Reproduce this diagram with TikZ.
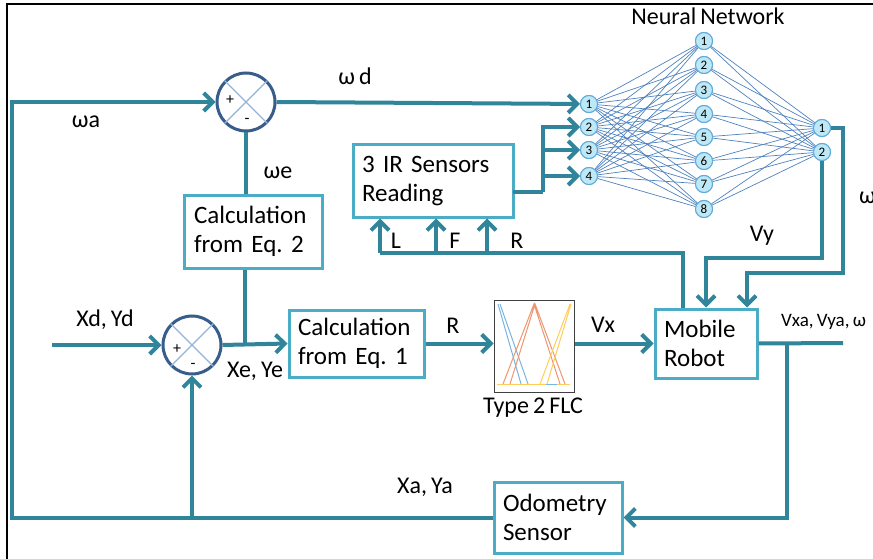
\documentclass[tikz,border=0pt]{standalone}
\usepackage{fontspec}
\setmainfont{Carlito}[WordSpace=0.75]
\frenchspacing
\usetikzlibrary{arrows.meta}
\definecolor{sigline}{RGB}{49,133,155}
\definecolor{boxline}{RGB}{75,172,198}
\definecolor{sumline}{RGB}{56,93,138}
\definecolor{crossline}{RGB}{149,179,215}
\definecolor{netline}{RGB}{79,129,189}
\definecolor{neuronfill}{RGB}{190,232,246}
\definecolor{neuronline}{RGB}{95,170,215}
\definecolor{mfblue}{RGB}{120,180,225}
\definecolor{mforange}{RGB}{240,150,110}
\definecolor{mfyellow}{RGB}{255,205,90}
\begin{document}
\begin{tikzpicture}[x=1pt, y=-1pt,
  sig/.style={sigline, line width=4pt},
  arr/.style={sigline, line width=4pt, -{Straight Barb[length=9pt,width=18pt]}},
  blockbox/.style={draw=boxline, line width=3pt, fill=white, align=left, inner sep=0pt,
    font=\fontsize{25}{29}\selectfont},
  sum/.style={circle, draw=sumline, line width=3pt, fill=white, minimum size=58pt, inner sep=0pt},
  cross/.style={crossline, line width=1.2pt},
  neuron/.style={circle, draw=neuronline, fill=neuronfill, line width=1pt, minimum size=17pt,
    inner sep=0pt, font=\fontsize{13}{13}\selectfont},
  link/.style={netline, line width=0.7pt},
  lbl/.style={font=\fontsize{24}{28}\selectfont, inner sep=0pt},
  pm/.style={font=\fontsize{16}{16}\selectfont, inner sep=0pt}]
\clip (0,0) rectangle (873,559);
\useasboundingbox (0,0) rectangle (873,559);

%frame
\draw[line width=1.5pt] (7,600) -- (7,4) -- (900,4);

%neural network
\node[lbl, font=\fontsize{24}{28}\selectfont] (nntitle) at (708,16) {Neural Network};
\foreach \n/\y in {1/104, 2/127, 3/150, 4/176}
  \node[neuron] (i\n) at (589,\y) {\n};
\foreach \n/\y in {1/41, 2/65, 3/90, 4/114, 5/137, 6/161, 7/184, 8/209}
  \node[neuron] (h\n) at (704,\y) {\n};
\foreach \n/\y in {1/128, 2/152}
  \node[neuron] (o\n) at (822,\y) {\n};
\foreach \a in {1,...,4}
  \foreach \b in {1,...,8}
    \draw[link] (i\a) -- (h\b);
\foreach \b in {1,...,8}
  \foreach \c in {1,2}
    \draw[link] (h\b) -- (o\c);
%redraw neurons on top of links
\foreach \n/\y in {1/104, 2/127, 3/150, 4/176}
  \node[neuron] at (589,\y) {\n};
\foreach \n/\y in {1/41, 2/65, 3/90, 4/114, 5/137, 6/161, 7/184, 8/209}
  \node[neuron] at (704,\y) {\n};
\foreach \n/\y in {1/128, 2/152}
  \node[neuron] at (822,\y) {\n};

%blocks
\node[blockbox, minimum width=138pt, minimum height=73pt, text width=118pt] (eq2) at (253,231.5)
  {Calculation\\from Eq. 2};
\node[blockbox, minimum width=135pt, minimum height=67pt, text width=117pt] (eq1) at (356.5,343.5)
  {Calculation\\from Eq. 1};
\node[blockbox, minimum width=160pt, minimum height=72pt, text width=142pt] (ir) at (433,181)
  {3 IR Sensors\\Reading};
\node[blockbox, minimum width=102pt, minimum height=69pt, text width=84pt] (robot) at (706,343.5)
  {Mobile\\Robot};
\node[blockbox, minimum width=128pt, minimum height=71pt, text width=110pt] (odo) at (558,517.5)
  {Odometry\\Sensor};
\node[draw=black!75, line width=1pt, fill=white, minimum width=80pt, minimum height=92pt] (flc) at (534,346) {};
\node[lbl] (flclbl) at (533,408) {Type 2 FLC};

%membership functions
\draw[mfyellow, line width=1pt] (497,384) -- (570,384);
\draw[mfblue, line width=1pt] (546,384) -- (557,384);
\draw[mfblue, line width=1pt] (498,304) -- (521,384) (500,304) -- (528,384);
\draw[mforange, line width=1pt] (503,384) -- (534,304) -- (560,384) (510,384) -- (535,304) -- (565,384);
\draw[mfyellow, line width=1pt] (540,384) -- (570,304) (547,384) -- (571,304);

%summing junctions
\node[sum] (s1) at (246,102) {};
\draw[cross] (s1.45) -- (s1.225);
\draw[cross] (s1.135) -- (s1.315);
\node[pm] (s1p) at (230,100) {+};
\node[pm] (s1m) at (247,121) {-};
\node[sum] (s2) at (192,345) {};
\draw[cross] (s2.45) -- (s2.225);
\draw[cross] (s2.135) -- (s2.315);
\node[pm] (s2p) at (177,349) {+};
\node[pm] (s2m) at (193,366) {-};

%helper points
\coordinate (xdin) at (52,345);
\coordinate (lft) at (12,300);
\coordinate (xe) at (245,345);
\coordinate (out) at (843,343);
\coordinate (fb) at (787,343);
\coordinate (irout) at (513,192);
\coordinate (br) at (543,192);
\coordinate (rl) at (683,253);
\coordinate (sl) at (380,253);
\coordinate (sf) at (436,253);
\coordinate (sr) at (487,253);
\coordinate (vy) at (822,258);
\coordinate (wc2) at (843,273);
\coordinate (wc) at (747,273);

%signal lines
\draw[arr] (s1.east) -- (i1);
\draw[sig] (s1.south) -- (s1.south |- eq2.north);
\draw[sig] (xe |- eq2.south) -- (xe);
\draw[arr] (xdin) -- (s2.west);
\draw[arr] (s2.east) -- (eq1.west);
\draw[arr] (eq1.east) -- (flc.west |- eq1.east);
\draw[arr] (flc.east |- robot.west) -- (robot.west);
\draw[sig] (robot.east) -- (out);
\draw[arr] (fb) |- (odo.east);
\draw[arr] (odo.west) -| (lft) |- (s1.west);
\draw[arr] (s2.south |- odo.west) -- (s2.south);
%sensors
\draw[sig] (robot.north -| rl) -- (rl) -- (sl);
\draw[arr] (sl) -- (sl |- ir.south);
\draw[arr] (sf) -- (sf |- ir.south);
\draw[arr] (sr) -- (sr |- ir.south);
\draw[sig] (irout) -- (br);
\draw[arr] (br) |- (i2);
\draw[arr] (br) |- (i3);
\draw[arr] (br) |- (i4);
%network outputs
\draw[arr] (o2.south) -- (vy) -| (robot.north);
\draw[arr] (o1.east) -| (wc2) -- (wc) -- (wc |- robot.north);

%labels
\node[lbl] (wdlbl) at (355,76) {ω d};
\node[lbl] (walbl) at (86,122) {ωa};
\node[lbl] (welbl) at (278,173) {ωe};
\node[lbl] (xdlbl) at (105,320) {Xd, Yd};
\node[lbl] (xelbl) at (255,371) {Xe, Ye};
\node[lbl] (rlbl) at (453,326) {R};
\node[lbl] (vxlbl) at (603,325) {Vx};
\node[lbl] (llbl) at (396,241) {L};
\node[lbl] (flbl) at (455,241) {F};
\node[lbl] (rslbl) at (517,241) {R};
\node[lbl] (vylbl) at (762,236) {Vy};
\node[lbl] (xalbl) at (425,487) {Xa, Ya};
\node[lbl, anchor=west, font=\fontsize{19}{22}\selectfont] (outlbl) at (781,322) {Vxa, Vya, ω};
\node[lbl, anchor=west] (wlbl) at (859,198) {ω};
\end{tikzpicture}
\end{document}
